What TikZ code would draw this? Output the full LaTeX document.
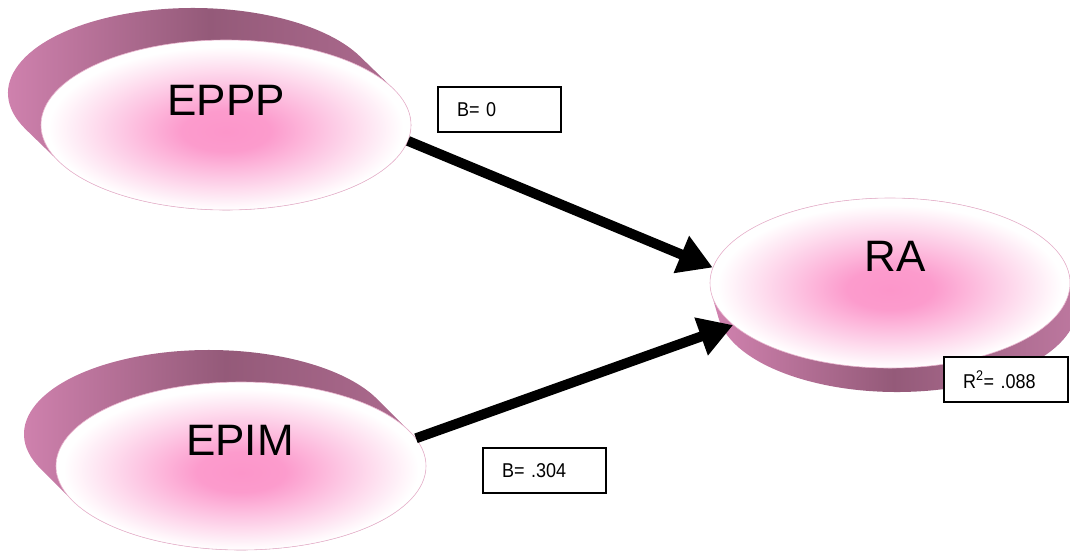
\documentclass[tikz,border=0pt]{standalone}
\usepackage{fontspec}
\setmainfont{Liberation Sans}
\newfontfamily\labfont[FakeStretch=0.9]{Liberation Sans}
\usetikzlibrary{shapes.geometric,arrows.meta,calc}
\definecolor{glow}{RGB}{252,150,202}
\definecolor{glowmid}{RGB}{253,200,228}
\definecolor{rimL}{RGB}{214,134,180}
\definecolor{rimM}{RGB}{148,90,121}
\definecolor{rimR}{RGB}{178,110,147}
\definecolor{rimRb}{RGB}{192,122,162}
\definecolor{edge}{RGB}{232,180,205}
\pgfdeclareradialshading{faceglow}{\pgfpoint{0bp}{-2bp}}{color(0bp)=(glow); color(6bp)=(glow!95!white); color(14bp)=(glowmid); color(24bp)=(white); color(50bp)=(white)}
\tikzset{
 face/.style={ellipse, inner sep=0pt, draw=edge, line width=0.6pt, shading=faceglow},
 bigtext/.style={font=\fontsize{44}{48}\selectfont, inner sep=0pt},
 labbox/.style={draw=black, line width=1.5pt, fill=white, rectangle, minimum height=45pt, text width=85pt, inner xsep=19pt, inner ysep=0pt, align=left, font=\labfont\fontsize{20}{24}\selectfont},
 patharrow/.style={line width=10pt, -{Triangle[length=34pt,width=38pt]}},
}
\begin{document}
\begin{tikzpicture}[x=1pt,y=-1pt]
\useasboundingbox (0,0) rectangle (1070,550);
% EPPP rim
\coordinate (epppF) at (226,125);
\coordinate (epppB) at (193,93);
\shade[left color=rimL, right color=rimR, middle color=rimM]
  ($(epppB)+(154.65:185 and 85)$) arc[start angle=154.65, end angle=334.65, x radius=185, y radius=85]
  -- ($(epppF)+(334.65:185 and 85)$) arc[start angle=334.65, end angle=514.65, x radius=185, y radius=85] -- cycle;
% EPIM rim
\coordinate (epimF) at (241,466);
\coordinate (epimB) at (209,434);
\shade[left color=rimL, right color=rimR, middle color=rimM]
  ($(epimB)+(155.58:185 and 84)$) arc[start angle=155.58, end angle=335.58, x radius=185, y radius=84]
  -- ($(epimF)+(335.58:185 and 84)$) arc[start angle=335.58, end angle=515.58, x radius=185, y radius=84] -- cycle;
% RA rim
\coordinate (raF) at (890,283);
\coordinate (raB) at (897,307);
\shade[left color=rimL, right color=rimRb, middle color=rimM]
  ($(raB)+(-8.4:180 and 85)$) arc[start angle=-8.4, end angle=171.6, x radius=180, y radius=85]
  -- ($(raF)+(171.6:180 and 85)$) arc[start angle=171.6, end angle=351.6, x radius=180, y radius=85] -- cycle;
% faces
\node[face, minimum width=370pt, minimum height=170pt] (eppp) at (epppF) {};
\node[face, minimum width=370pt, minimum height=168pt] (epim) at (epimF) {};
\node[face, minimum width=360pt, minimum height=170pt] (ra) at (raF) {};
\node[bigtext] (epppT) at (226,100) {EPPP};
\node[bigtext] (epimT) at (240,440) {EPIM};
\node[bigtext] (raT) at (895,256) {RA};
% arrows
\draw[patharrow] (eppp.-5) -- (ra.175);
\draw[patharrow] (epim.9.4) -- (ra.195);
% labels
\node[labbox] (b1) at (499.5,109.5) {B= 0};
\node[labbox] (b2) at (544.5,470.5) {B= .304};
\node[labbox, text width=86pt] (r2) at (1006,379.5) {R\textsuperscript{2}= .088};
\end{tikzpicture}
\end{document}
